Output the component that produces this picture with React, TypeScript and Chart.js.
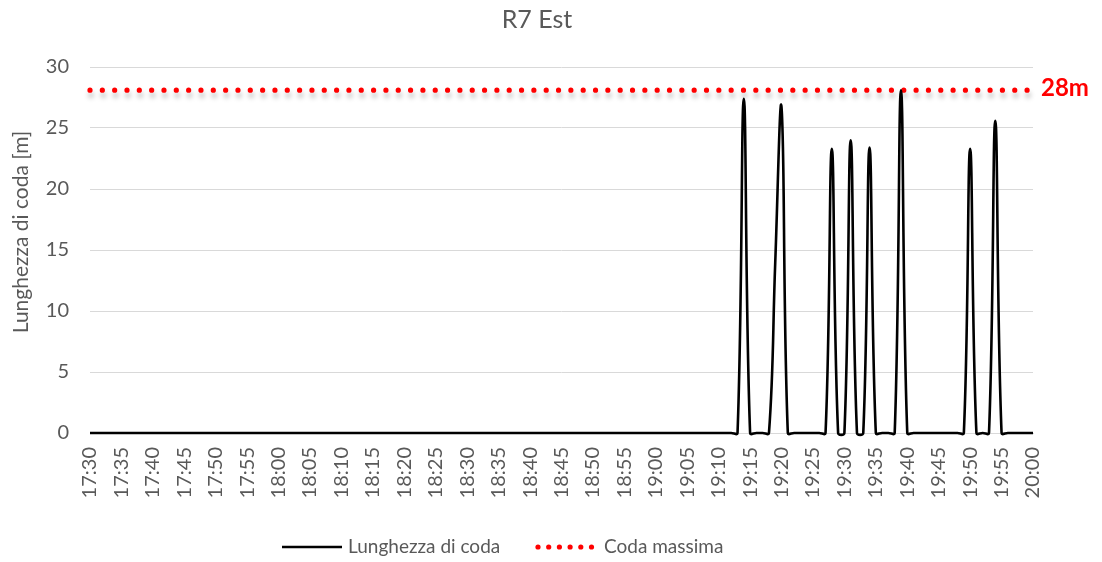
import React, { useEffect, useRef } from "react";
import { Chart, registerables } from "chart.js";

Chart.register(...registerables);

const TITLE = "R7 Est";
const Y_TITLE = "Lunghezza di coda [m]";
const SERIES_NAME = "Lunghezza di coda";
const MAX_NAME = "Coda massima";
const MAX_LABEL = "28m";
const CODA_MASSIMA = 28.1;
const Y_MIN = 0;
const Y_MAX = 30;
const Y_STEP = 5;

// minute-by-minute categories 17:30 .. 20:00
const timeLabels: string[] = [];
for (let m = 17 * 60 + 30; m <= 20 * 60; m++) {
  const h = Math.floor(m / 60);
  const mm = m % 60;
  timeLabels.push(`${h}:${mm < 10 ? "0" + mm : mm}`);
}

// queue length [m], one value per minute from 17:30
const lunghezza: number[] = [
  0, 0, 0, 0, 0, 0, 0, 0, 0, 0, // 17:30
  0, 0, 0, 0, 0, 0, 0, 0, 0, 0, // 17:40
  0, 0, 0, 0, 0, 0, 0, 0, 0, 0, // 17:50
  0, 0, 0, 0, 0, 0, 0, 0, 0, 0, // 18:00
  0, 0, 0, 0, 0, 0, 0, 0, 0, 0, // 18:10
  0, 0, 0, 0, 0, 0, 0, 0, 0, 0, // 18:20
  0, 0, 0, 0, 0, 0, 0, 0, 0, 0, // 18:30
  0, 0, 0, 0, 0, 0, 0, 0, 0, 0, // 18:40
  0, 0, 0, 0, 0, 0, 0, 0, 0, 0, // 18:50
  0, 0, 0, 0, 0, 0, 0, 0, 0, 0, // 19:00
  0, 0, 0, 0, 27.4, 0, 0, 0, 0, 14, // 19:10
  26.7, 0, 0, 0, 0, 0, 0, 0, 23.3, 0, // 19:20
  0, 24.0, 0, 0, 23.4, 0, 0, 0, 0, 28.1, // 19:30
  0, 0, 0, 0, 0, 0, 0, 0, 0, 0, // 19:40
  23.3, 0, 0, 0, 25.6, 0, 0, 0, 0, 0, // 19:50
  0, // 20:00
];

const FONT = "Lato, 'Open Sans', sans-serif";
const TEXT_COLOR = "#595959";

const decorPlugin = {
  id: "decor",
  beforeDatasetDraw(chart: any, args: any) {
    if (args.index === 1) {
      const ctx = chart.ctx;
      ctx.save();
      ctx.shadowColor = "rgba(0,0,0,0.28)";
      ctx.shadowBlur = 5;
      ctx.shadowOffsetX = 1;
      ctx.shadowOffsetY = 5;
    }
  },
  afterDatasetDraw(chart: any, args: any) {
    if (args.index === 1) chart.ctx.restore();
  },
  afterDraw(chart: any) {
    const ctx = chart.ctx;
    const area = chart.chartArea;
    const yScale = chart.scales.y;
    ctx.save();
    // title
    ctx.fillStyle = TEXT_COLOR;
    ctx.font = `25px ${FONT}`;
    ctx.textAlign = "center";
    ctx.textBaseline = "middle";
    ctx.fillText(TITLE, 537, 20);
    // y axis title
    ctx.save();
    ctx.translate(21, 232);
    ctx.rotate(-Math.PI / 2);
    ctx.font = `21px ${FONT}`;
    ctx.fillText(Y_TITLE, 0, 0);
    ctx.restore();
    // max label
    ctx.fillStyle = "#ff0000";
    ctx.font = `bold 24px ${FONT}`;
    ctx.textAlign = "left";
    ctx.fillText(MAX_LABEL, area.right + 8, yScale.getPixelForValue(CODA_MASSIMA) - 2);
    // legend
    const ly = 547;
    ctx.strokeStyle = "#000000";
    ctx.lineWidth = 2.5;
    ctx.beginPath();
    ctx.moveTo(282, ly);
    ctx.lineTo(342, ly);
    ctx.stroke();
    ctx.fillStyle = TEXT_COLOR;
    ctx.font = `19px ${FONT}`;
    ctx.fillText(SERIES_NAME, 348, ly);
    ctx.fillStyle = "#ff0000";
    for (let k = 0; k < 6; k++) {
      ctx.beginPath();
      ctx.arc(538 + k * 10.7, ly, 2.6, 0, Math.PI * 2);
      ctx.fill();
    }
    ctx.fillStyle = TEXT_COLOR;
    ctx.fillText(MAX_NAME, 604, ly);
    ctx.restore();
  },
};

export default function App() {
  const ref = useRef<HTMLCanvasElement | null>(null);
  useEffect(() => {
    if (!ref.current) return;
    const chart = new Chart(ref.current, {
      type: "line",
      data: {
        labels: timeLabels,
        datasets: [
          {
            label: SERIES_NAME,
            data: lunghezza,
            borderColor: "#000000",
            borderWidth: 2.6,
            pointRadius: 0,
            tension: 0.4,
            fill: false,
            clip: 6,
          } as any,
          {
            label: MAX_NAME,
            data: [
              { x: timeLabels[0], y: CODA_MASSIMA },
              { x: timeLabels[timeLabels.length - 1], y: CODA_MASSIMA },
            ],
            borderColor: "#ff0000",
            borderWidth: 5.2,
            borderDash: [0, 12.33],
            borderCapStyle: "round",
            pointRadius: 0,
            tension: 0,
            fill: false,
            clip: 8,
          } as any,
        ],
      },
      options: {
        animation: false,
        responsive: false,
        devicePixelRatio: 1,
        layout: { padding: { left: 0, right: 69, top: 67, bottom: 0 } },
        elements: { line: { capBezierPoints: false } as any },
        plugins: {
          legend: { display: false },
          title: { display: false },
          tooltip: { enabled: false },
        },
        scales: {
          x: {
            type: "category",
            offset: false,
            grid: { display: false, drawTicks: false },
            border: { display: true, color: "#d9d9d9" },
            ticks: {
              autoSkip: false,
              maxRotation: 90,
              minRotation: 90,
              padding: 14,
              color: TEXT_COLOR,
              font: { family: FONT, size: 20 },
              callback: (_v: any, i: number) => (i % 5 === 0 ? timeLabels[i] : null),
            },
            afterFit: (s: any) => {
              s.height = 129;
            },
          },
          y: {
            min: Y_MIN,
            max: Y_MAX,
            grid: { color: "#d9d9d9", lineWidth: 1, drawTicks: false },
            border: { display: false },
            ticks: {
              stepSize: Y_STEP,
              padding: 21,
              color: TEXT_COLOR,
              font: { family: FONT, size: 20 },
            },
            afterFit: (s: any) => {
              s.width = 90;
            },
          },
        },
      },
      plugins: [decorPlugin],
    });
    return () => chart.destroy();
  }, []);
  return (
    <div style={{ position: "fixed", left: 0, top: 0, width: 1102, height: 562, background: "#fff" }}>
      <canvas ref={ref} width={1102} height={562} />
    </div>
  );
}
